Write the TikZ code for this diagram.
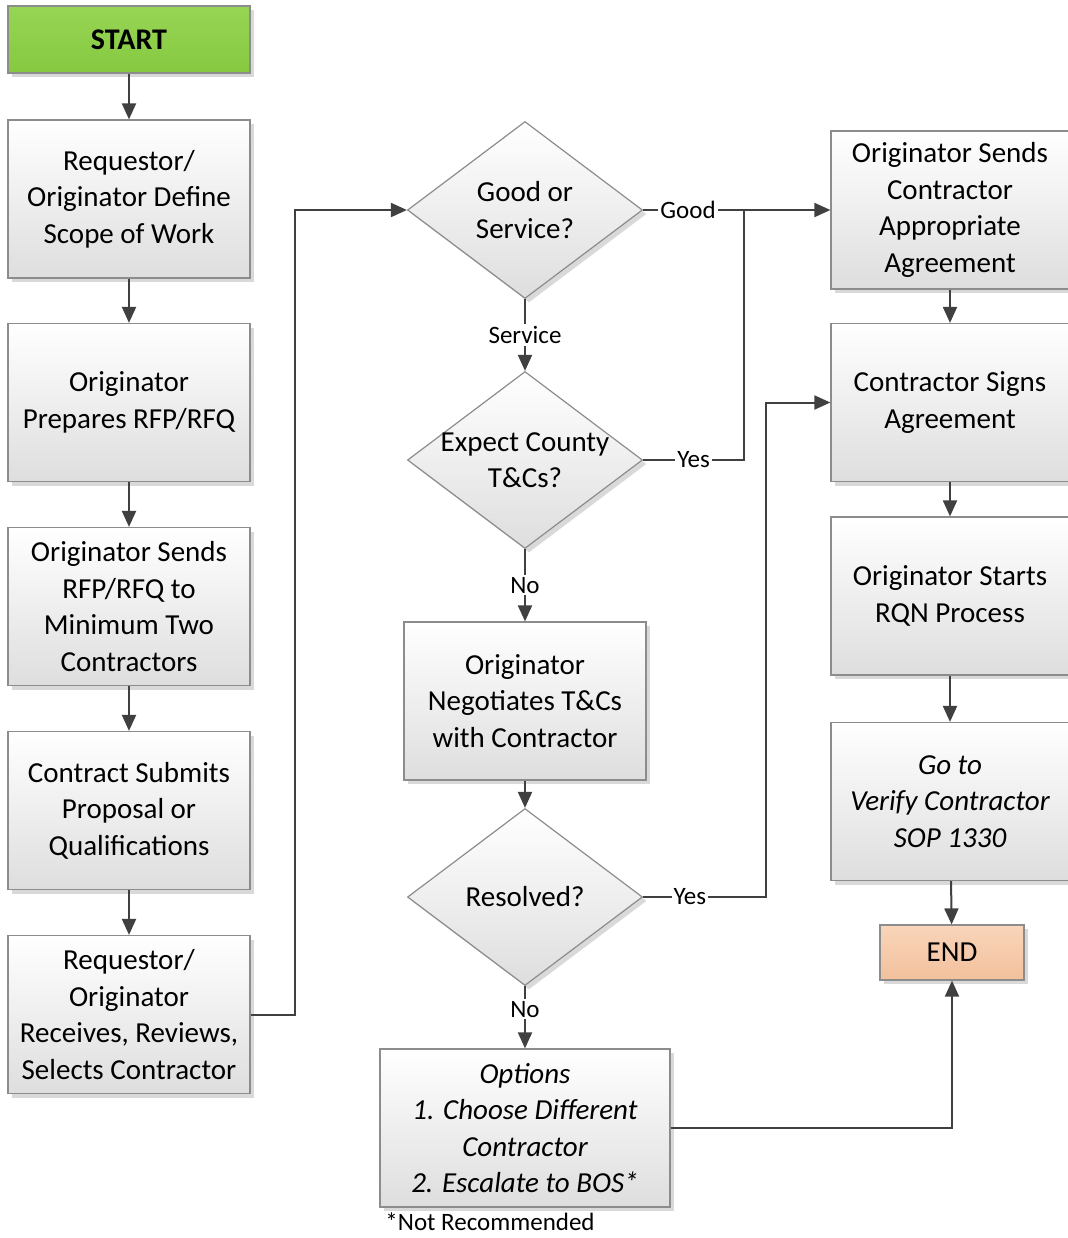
\documentclass[tikz,border=0pt]{standalone}
\usepackage{fontspec}
\setmainfont{Carlito}
\usetikzlibrary{shapes.geometric,arrows.meta,shadows}
\definecolor{linec}{HTML}{404040}
\definecolor{edgec}{HTML}{8C8C8C}
\definecolor{starttop}{HTML}{97D555}
\definecolor{startbot}{HTML}{86C940}
\definecolor{endtop}{HTML}{F9D5BA}
\definecolor{endbot}{HTML}{F2C09C}
\newcommand{\boxfont}{\fontsize{14.5}{18.25}\selectfont}
\newcommand{\lblfont}{\fontsize{12.5}{15}\selectfont}
\begin{document}
\begin{tikzpicture}[x=0.5pt,y=-0.5pt,
  shade/.style={drop shadow={shadow xshift=2pt, shadow yshift=-2pt, fill=black, opacity=0.15}},
  base/.style={draw=edgec, line width=0.6pt, top color=white, bottom color=black!13, shade},
  box/.style={base, rectangle, minimum width=121pt, minimum height=79pt, align=center, font=\boxfont, inner sep=2pt},
  widebox/.style={box, minimum width=145pt},
  rbox/.style={box, minimum width=119pt},
  dia/.style={base, diamond, minimum width=117.5pt, minimum height=88.5pt, inner sep=0pt},
  diatext/.style={align=center, font=\boxfont},
  lbl/.style={fill=white, inner sep=1pt, font=\lblfont},
  conn/.style={draw=linec, line width=1pt, -{Triangle[length=8pt,width=7pt]}},
  wire/.style={draw=linec, line width=1pt}
]
\clip (0,0) rectangle (1068,1238);

% left column
\node[box, minimum height=33.5pt, top color=starttop, bottom color=startbot, font=\fontsize{15}{18}\selectfont\bfseries] (start) at (129,39.5) {START};
\node[box] (b1) at (129,199) {Requestor/\\Originator Define\\Scope of Work};
\node[box] (b2) at (129,402.5) {Originator\\Prepares RFP/RFQ};
\node[box] (b3) at (129,606.5) {Originator Sends\\RFP/RFQ to\\Minimum Two\\Contractors};
\node[box] (b4) at (129,810.5) {Contract Submits\\Proposal or\\Qualifications};
\node[box] (b5) at (129,1014.5) {Requestor/\\Originator\\Receives, Reviews,\\Selects Contractor};

% middle column
\node[dia, label={[diatext]center:Good or\\Service?}] (d1) at (525,210) {};
\node[dia, label={[diatext]center:Expect County\\T\&Cs?}] (d2) at (525,460) {};
\node[box] (c1) at (525,701) {Originator\\Negotiates T\&Cs\\with Contractor};
\node[dia, label={[diatext]center:Resolved?}] (d3) at (525,897) {};
\node[widebox, font=\boxfont\itshape] (c2) at (525,1128) {Options\\1. Choose Different\\Contractor\\2. Escalate to BOS*};
\node[font=\lblfont, inner sep=1pt] (note) at (490,1222) {*Not Recommended};

% right column
\node[rbox] (r1) at (950,210) {Originator Sends\\Contractor\\Appropriate\\Agreement};
\node[rbox] (r2) at (950,402.5) {Contractor Signs\\Agreement};
\node[rbox] (r3) at (950,596) {Originator Starts\\RQN Process};
\node[rbox, font=\boxfont\itshape] (r4) at (950,801.5) {Go to\\Verify Contractor\\SOP 1330};
\node[box, minimum width=72pt, minimum height=27.5pt, top color=endtop, bottom color=endbot] (end) at (952,952.5) {END};

% bend points
\coordinate (bend1) at (295,1014.5);
\coordinate (join1) at (744,210);
\coordinate (bend3) at (766,897);

% left column flow
\draw[conn] (start) -- (b1);
\draw[conn] (b1) -- (b2);
\draw[conn] (b2) -- (b3);
\draw[conn] (b3) -- (b4);
\draw[conn] (b4) -- (b5);
\draw[conn] (b5.east) -- (bend1) |- (d1.west);

% decisions
\draw[conn] (d1.east) -- node[lbl, pos=0.24] {Good} (r1.west);
\draw[conn] (d1.south) -- node[lbl] {Service} (d2.north);
\draw[wire] (d2.east) -- node[lbl] {Yes} (d2.east -| join1) -- (join1);
\draw[conn] (d2.south) -- node[lbl] {No} (c1.north);
\draw[conn] (c1.south) -- (d3.north);
\draw[conn] (d3.east) -- node[lbl, pos=0.38] {Yes} (bend3) |- (r2.west);
\draw[conn] (d3.south) -- node[lbl, pos=0.37] {No} (c2.north);
\draw[conn] (c2.east) -| (end.south);

% right column flow
\draw[conn] (r1) -- (r2);
\draw[conn] (r2) -- (r3);
\draw[conn] (r3) -- (r4);
\draw[conn] (r4) -- (end);
\end{tikzpicture}
\end{document}
